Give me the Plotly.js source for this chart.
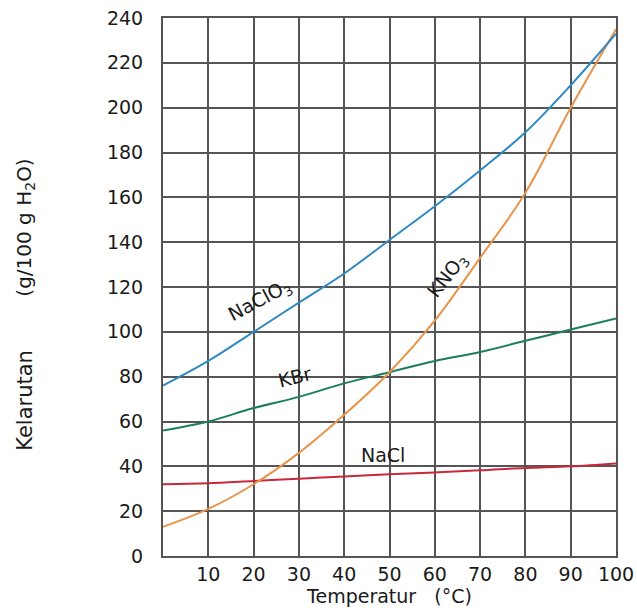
<!DOCTYPE html>
<html><head><meta charset="utf-8">
<script src="https://cdn.plot.ly/plotly-3.0.1.min.js"></script>
<style>html,body{margin:0;padding:0;background:#fff;}#chart{width:637px;height:614px;}</style>
</head><body><div id="chart"></div>
<script>
const temperature = [0, 10, 20, 30, 40, 50, 60, 70, 80, 90, 100];
const naclo3 = [76, 87, 100, 113, 126, 141, 156, 172, 189, 210, 233];
const kno3 = [13, 21, 32, 46, 63, 82, 105, 133, 162, 200, 235];
const kbr = [56, 60, 66, 71, 77, 82, 87, 91, 96, 101, 106];
const nacl = [32, 32.5, 33.5, 34.5, 35.5, 36.5, 37.3, 38.2, 39.3, 40, 41.3];
const xTicks = [10, 20, 30, 40, 50, 60, 70, 80, 90, 100];
const yTicks = [0, 20, 40, 60, 80, 100, 120, 140, 160, 180, 200, 220, 240];

const F = "DejaVu Sans, Liberation Sans, Arial, sans-serif";
function tr(y, color){
  return {x: temperature, y: y, type: 'scatter', mode: 'lines',
    line: {color: color, width: 2, shape: 'spline', smoothing: 1}, hoverinfo: 'skip', showlegend: false};
}
const data = [
  tr(nacl, '#c8283c'),
  tr(kbr, '#1b7f5c'),
  tr(kno3, '#e8944a'),
  tr(naclo3, '#2e8ac2')
];
const layout = {
  width: 637, height: 614,
  margin: {l: 163, r: 21, t: 18, b: 58},
  paper_bgcolor: '#fff', plot_bgcolor: '#fff',
  font: {family: F, size: 19, color: '#1a1a1a'},
  xaxis: {range: [0, 100], tickvals: xTicks, ticktext: xTicks.map(String),
    showgrid: true, gridcolor: '#555', gridwidth: 2, zeroline: false,
    showline: true, linecolor: '#555', linewidth: 2, mirror: true,
    ticks: '', ticklabelstandoff: 0,
    title: {text: 'Temperatur   (°C)', font: {size: 19, family: F}, standoff: 0}},
  yaxis: {range: [0, 240], tickvals: yTicks, ticktext: yTicks.map(String),
    showgrid: true, gridcolor: '#555', gridwidth: 2, zeroline: false,
    showline: true, linecolor: '#555', linewidth: 2, mirror: true,
    ticks: '', ticklabelstandoff: 14},
  annotations: [
    {text: 'Kelarutan', xref: 'paper', yref: 'paper', x: -0.305, y: 0.29, textangle: -90,
      showarrow: false, font: {size: 21, family: F}, xanchor: 'center', yanchor: 'middle'},
    {text: '(g/100 g H<sub>2</sub>O)', xref: 'paper', yref: 'paper', x: -0.305, y: 0.61, textangle: -90,
      showarrow: false, font: {size: 20, family: F}, xanchor: 'center', yanchor: 'middle'},
    {text: 'NaClO<sub>3</sub>', x: 21.5, y: 114, textangle: -28, showarrow: false, font: {size: 19, family: F}},
    {text: 'KBr', x: 29, y: 80, textangle: -14, showarrow: false, font: {size: 19, family: F}},
    {text: 'KNO<sub>3</sub>', x: 63, y: 125, textangle: -52, showarrow: false, font: {size: 19, family: F}},
    {text: 'NaCl', x: 48.5, y: 45, textangle: 0, showarrow: false, font: {size: 19, family: F}}
  ]
};
Plotly.newPlot('chart', data, layout, {staticPlot: true, displayModeBar: false});
</script></body></html>
